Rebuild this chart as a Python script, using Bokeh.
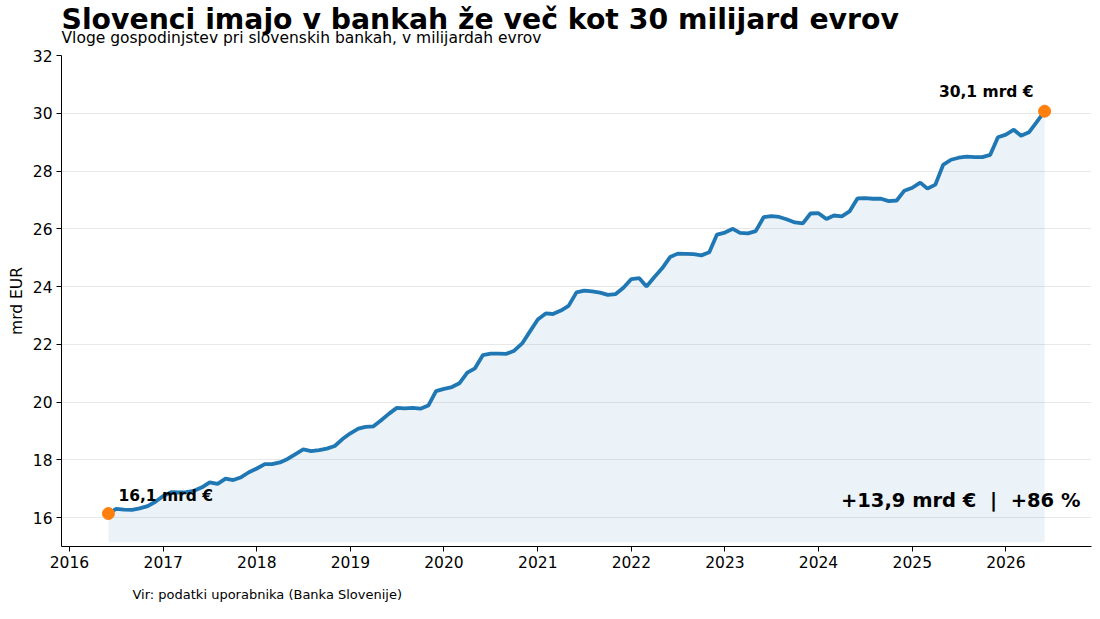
import pandas as pd
from bokeh.plotting import figure
from bokeh.models import Label, Range1d, FixedTicker, DatetimeTickFormatter, Title
from bokeh.core.properties import value
from bokeh.embed import file_html
from bokeh.resources import INLINE

# ---- data ----
start_month = "2016-06-01"
deposits = [
    16.14, 16.30, 16.28, 16.27, 16.32, 16.40, 16.55, 16.75, 16.88, 16.87,
    16.88, 16.93, 17.05, 17.22, 17.17, 17.35, 17.30, 17.40, 17.57, 17.70,
    17.85, 17.85, 17.91, 18.03, 18.20, 18.36, 18.30, 18.34, 18.39, 18.48,
    18.72, 18.92, 19.08, 19.14, 19.16, 19.37, 19.60, 19.80, 19.78, 19.80,
    19.77, 19.88, 20.38, 20.46, 20.52, 20.65, 21.02, 21.17, 21.63, 21.68,
    21.68, 21.67, 21.78, 22.03, 22.44, 22.86, 23.07, 23.05, 23.17, 23.33,
    23.80, 23.86, 23.83, 23.79, 23.71, 23.74, 23.96, 24.26, 24.29, 24.00,
    24.33, 24.63, 25.02, 25.14, 25.13, 25.12, 25.08, 25.19, 25.80, 25.87,
    26.00, 25.86, 25.84, 25.92, 26.40, 26.44, 26.41, 26.32, 26.22, 26.19,
    26.53, 26.54, 26.34, 26.46, 26.43, 26.60, 27.05, 27.06, 27.04, 27.04,
    26.96, 26.98, 27.32, 27.42, 27.60, 27.39, 27.53, 28.21, 28.39, 28.46,
    28.50, 28.48, 28.48, 28.56, 29.17, 29.26, 29.43, 29.22, 29.34, 29.69,
    30.07,
]
tick_years = list(range(2016, 2027))
y_ticks = [16, 18, 20, 22, 24, 26, 28, 30, 32]
y_min, y_max = 15, 32
fill_base = 15.15

title_text = "Slovenci imajo v bankah že več kot 30 milijard evrov"
subtitle_text = "Vloge gospodinjstev pri slovenskih bankah, v milijardah evrov"
source_text = "Vir: podatki uporabnika (Banka Slovenije)"
y_label = "mrd EUR"
start_label = "16,1 mrd €"
end_label = "30,1 mrd €"
change_label = "+13,9 mrd €\u00a0 |\u00a0 +86 %"

dates = pd.date_range(start_month, periods=len(deposits), freq="MS")
pad = pd.Timedelta(days=183)

FONT = "DejaVu Sans"

p = figure(
    width=1100, height=619,
    x_axis_type="datetime",
    x_range=Range1d(dates[0] - pad, dates[-1] + pad),
    y_range=Range1d(y_min, y_max),
    output_backend="svg", toolbar_location=None,
    min_border_left=61, min_border_right=9,
    min_border_top=55, min_border_bottom=73,
    background_fill_color="white", border_fill_color="white",
)
p.outline_line_color = None

# main title in the built-in slot (outermost), subtitle added closer to the frame
p.title.text = title_text
p.title.text_font = FONT
p.title.text_font_size = "28.3px"
p.title.text_font_style = "bold"
p.title.text_color = "black"
p.title.align = "left"
p.title.standoff = -34
p.add_layout(Title(text=subtitle_text, text_font=FONT, text_font_size="15.5px",
                   text_font_style="normal", text_color="black",
                   align="left", standoff=17), "above")
p.add_layout(Title(text=source_text, text_font=FONT, text_font_size="13px",
                   text_font_style="normal", text_color="black",
                   align="left", offset=71, standoff=28), "below")

# grid
p.xgrid.grid_line_color = None
p.ygrid.grid_line_color = "#e8e8e8"
p.ygrid.grid_line_width = 1

# axes
p.yaxis.ticker = FixedTicker(ticks=y_ticks)
tick_ms = [pd.Timestamp(f"{y}-01-01").value / 1e6 for y in tick_years]
p.xaxis.ticker = FixedTicker(ticks=tick_ms)
p.xaxis.formatter = DatetimeTickFormatter(
    years="%Y", months="%Y", days="%Y", hours="%Y", minutes="%Y",
    seconds="%Y", milliseconds="%Y", microseconds="%Y", hourmin="%Y",
    minsec="%Y",
)
for ax in (p.xaxis, p.yaxis):
    ax.axis_line_color = "black"
    ax.axis_line_width = 1
    ax.major_tick_line_color = "black"
    ax.major_tick_out = 5
    ax.major_tick_in = 0
    ax.minor_tick_line_color = None
    ax.major_label_text_font = FONT
    ax.major_label_text_font_size = "15.5px"
    ax.major_label_text_color = "black"
    ax.major_label_standoff = 4
p.yaxis.axis_label = y_label
p.yaxis.axis_label_text_font = FONT
p.yaxis.axis_label_text_font_size = "15.5px"
p.yaxis.axis_label_text_font_style = "normal"
p.yaxis.axis_label_text_color = "black"
p.yaxis.axis_label_standoff = 4

# area + line
p.varea(x=dates, y1=fill_base, y2=deposits, fill_color="#1f77b4", fill_alpha=0.09)
p.line(x=dates, y=deposits, line_color="#1f77b4", line_width=3.8)
p.scatter(x=[dates[0], dates[-1]], y=[deposits[0], deposits[-1]],
          size=12, color="#ff7f0e")

# annotations
p.add_layout(Label(x=dates[0], y=deposits[0], text=start_label,
                   x_offset=10, y_offset=18, text_baseline="middle",
                   text_font=FONT, text_font_size="15.5px",
                   text_font_style="bold", text_color="black"))
p.add_layout(Label(x=dates[-1], y=deposits[-1], text=end_label,
                   x_offset=-11, y_offset=19, text_align="right",
                   text_baseline="middle",
                   text_font=FONT, text_font_size="15.5px",
                   text_font_style="bold", text_color="black"))
p.add_layout(Label(x=1019, y=46, x_units="screen", y_units="screen",
                   text=change_label, text_align="right", text_baseline="middle",
                   text_font=FONT, text_font_size="19.5px",
                   text_font_style="bold", text_color="black"))

open("out.html", "w").write(file_html(p, INLINE))
